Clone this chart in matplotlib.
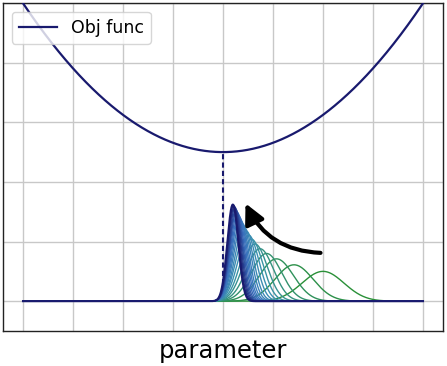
import numpy as np
import matplotlib.pyplot as plt
from matplotlib.colors import LinearSegmentedColormap

# Objective function (parabola) coefficients
obj_min = 2.5
obj_curv = 0.156

# Gaussian iterates: centre, spread and peak height (oldest -> newest)
mus = [2.00, 1.42, 1.07, 0.87, 0.74, 0.64, 0.57, 0.51, 0.46, 0.42, 0.385,
       0.355, 0.33, 0.31, 0.29, 0.27, 0.255, 0.24, 0.225, 0.21, 0.196]
sigmas = [0.42, 0.38, 0.34, 0.30, 0.27, 0.245, 0.225, 0.21, 0.195, 0.18, 0.17,
          0.16, 0.152, 0.145, 0.138, 0.132, 0.126, 0.121, 0.117, 0.113, 0.11]
heights = [0.50, 0.61, 0.71, 0.80, 0.88, 0.96, 1.04, 1.11, 1.18, 1.24, 1.30,
           1.35, 1.40, 1.44, 1.48, 1.51, 1.54, 1.57, 1.59, 1.61, 1.62]

x_ticks = [-4, -3, -2, -1, 0, 1, 2, 3, 4]
y_ticks = [0, 1, 2, 3, 4, 5]

navy = "#191a6e"
cmap = LinearSegmentedColormap.from_list("iters", ["#2a9038", "#3b93b0", "#3a70bf", navy])

fig = plt.figure(figsize=(4.47, 3.66), dpi=100)
ax = fig.add_axes([3 / 447, 35 / 366, 440 / 447, 328 / 366])

x = np.linspace(-4, 4, 1200)
ax.plot(x, obj_min + obj_curv * x ** 2, color=navy, lw=1.6, label="Obj func", zorder=3)
ax.plot([0, 0], [0, obj_min], color=navy, lw=1.5, dashes=(2.5, 1.5), zorder=2)

n = len(mus)
for i, (m, s, h) in enumerate(zip(mus, sigmas, heights)):
    y = h * np.exp(-0.5 * ((x - m) / s) ** 2)
    lw = 1.5 if i == n - 1 else 1.0
    ax.plot(x, y, color=cmap(i / (n - 1)), lw=lw, zorder=2)

ax.annotate("", xy=(0.45, 1.64), xytext=(1.95, 0.81),
            arrowprops=dict(arrowstyle="-|>,head_width=0.3,head_length=0.6",
                            lw=3.0, color="black", mutation_scale=20,
                            shrinkA=0, shrinkB=0,
                            connectionstyle="arc3,rad=-0.3"), zorder=4)

ax.set_xlim(-4.4, 4.4)
ax.set_ylim(-0.5, 5.0)
ax.set_xticks(x_ticks)
ax.set_yticks(y_ticks)
ax.set_xticklabels([])
ax.set_yticklabels([])
ax.tick_params(length=0)
ax.grid(True, color="#c8c8c8", lw=1.0)
ax.set_axisbelow(True)
for sp in ax.spines.values():
    sp.set_color("#222222")
    sp.set_linewidth(1.0)

ax.set_xlabel("parameter", fontsize=17.5, labelpad=2)
ax.legend(loc="upper left", fontsize=12.5, handlelength=2.2)

plt.savefig("out.png", dpi=100)
